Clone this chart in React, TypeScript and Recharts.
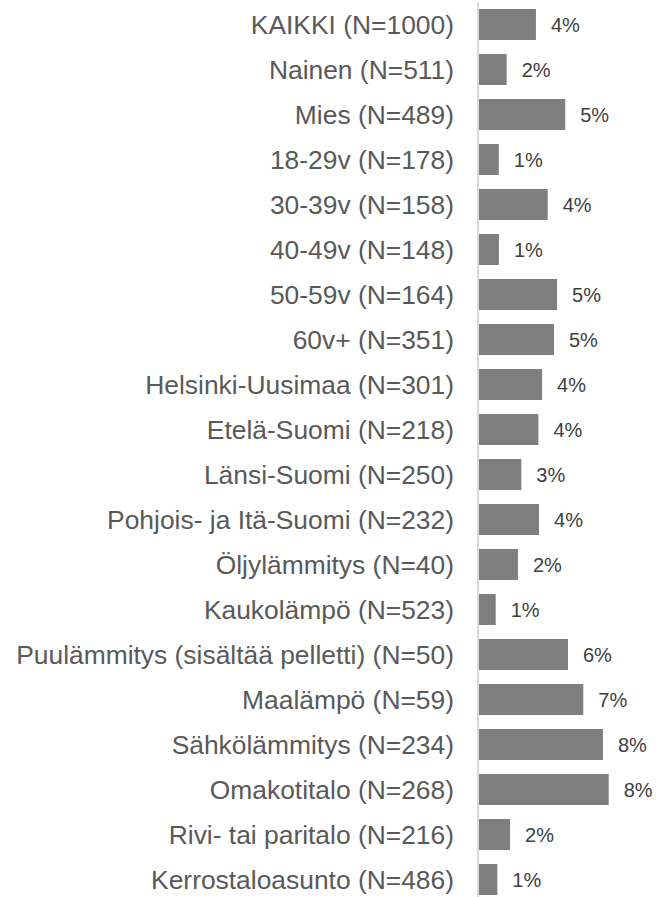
import React from "react";
import { BarChart, Bar, XAxis, YAxis, LabelList } from "recharts";

const categories = [
  "KAIKKI (N=1000)",
  "Nainen (N=511)",
  "Mies (N=489)",
  "18-29v (N=178)",
  "30-39v (N=158)",
  "40-49v (N=148)",
  "50-59v (N=164)",
  "60v+ (N=351)",
  "Helsinki-Uusimaa (N=301)",
  "Etelä-Suomi (N=218)",
  "Länsi-Suomi (N=250)",
  "Pohjois- ja Itä-Suomi (N=232)",
  "Öljylämmitys (N=40)",
  "Kaukolämpö (N=523)",
  "Puulämmitys (sisältää pelletti) (N=50)",
  "Maalämpö (N=59)",
  "Sähkölämmitys (N=234)",
  "Omakotitalo (N=268)",
  "Rivi- tai paritalo (N=216)",
  "Kerrostaloasunto (N=486)",
];

const values = [
  3.6, 1.78, 5.42, 1.29, 4.33, 1.3, 4.91, 4.72, 3.98, 3.75, 2.69, 3.79, 2.48,
  1.1, 5.59, 6.54, 7.76, 8.12, 1.99, 1.2,
];

const data = categories.map((name, i) => ({ name, value: values[i] }));

export default function App() {
  return (
    <div style={{ position: "absolute", left: 0, top: 0 }}>
      <BarChart
        width={656}
        height={902}
        data={data}
        layout="vertical"
        margin={{ top: 2, right: 17, bottom: 0, left: 0 }}
        barSize={31}
      >
        <XAxis type="number" domain={[0, 10]} hide />
        <YAxis
          type="category"
          dataKey="name"
          width={478}
          tickLine={false}
          tickSize={0}
          tickMargin={24}
          axisLine={{ stroke: "#d9d9d9", strokeWidth: 2 }}
          tick={{
            fill: "#595959",
            fontSize: 26.4,
            fontFamily: "'Liberation Sans', Arial, sans-serif",
          }}
          interval={0}
        />
        <Bar dataKey="value" fill="#7f7f7f" isAnimationActive={false}>
          <LabelList
            dataKey="value"
            position="right"
            offset={15}
            formatter={(v: number) => `${Math.round(v)}%`}
            style={{
              fill: "#404040",
              fontSize: 20,
              fontFamily: "'Liberation Sans', Arial, sans-serif",
            }}
          />
        </Bar>
      </BarChart>
    </div>
  );
}
